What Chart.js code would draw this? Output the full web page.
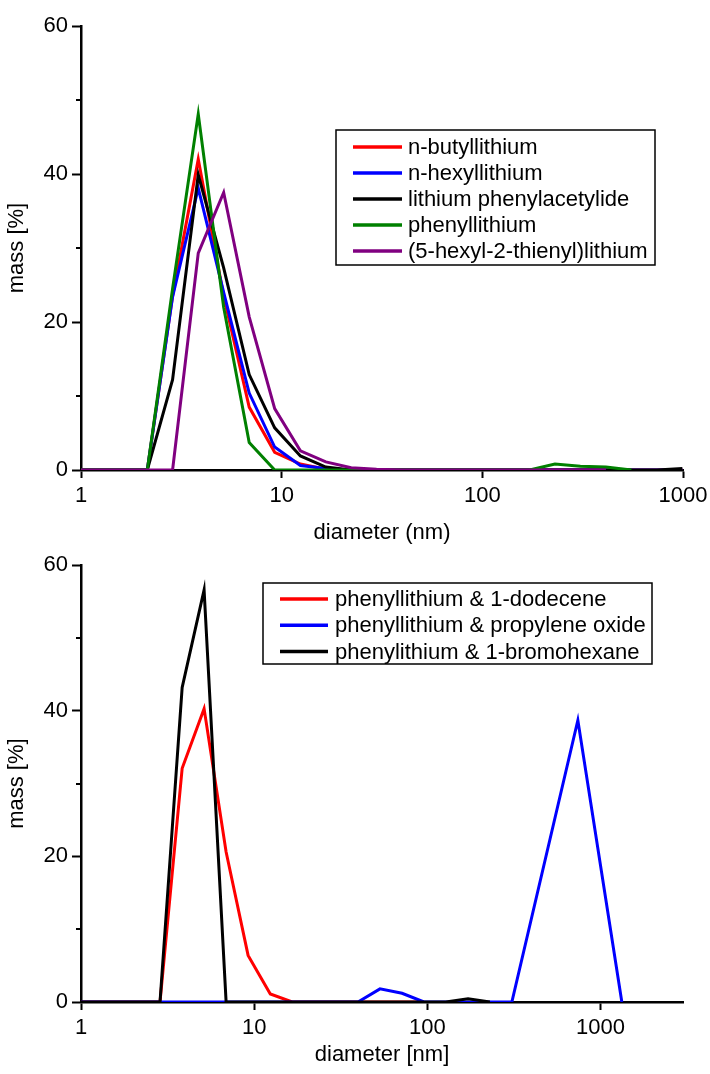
<!DOCTYPE html>
<html>
<head>
<meta charset="utf-8">
<title>Particle size distribution</title>
<script src="https://cdn.jsdelivr.net/npm/chart.js@4.4.1/dist/chart.umd.min.js"></script>
<style>
  html, body { margin: 0; padding: 0; background: #fff; }
  #wrap { width: 710px; height: 1074px; }
  canvas { display: block; }
</style>
</head>
<body>
<div id="wrap">
  <canvas id="topChart" width="710" height="548"></canvas>
  <canvas id="bottomChart" width="710" height="526"></canvas>
</div>
<script>
// size bins (nm)
const topSizes = [1, 2.14, 2.86, 3.84, 5.14, 6.89, 9.23, 12.4, 16.6, 22.2, 29.7, 39.8, 53.3, 71.5, 95.7, 128, 172, 230, 308, 413, 553, 741, 993];
const bottomSizes = [1, 2.14, 2.86, 3.84, 5.14, 6.89, 9.23, 12.4, 16.6, 22.2, 29.7, 39.8, 53.3, 71.5, 95.7, 128, 172, 230, 308, 413, 553, 741, 993, 1330];

// top: organolithium reagents, mass %
const nButyl    = [0, 0, 23.5, 42.0, 23.5, 8.5, 2.4, 0.8, 0.1, 0, 0, 0, 0, 0, 0, 0, 0, 0, 0, 0, 0, 0, 0];
const nHexyl    = [0, 0, 23.4, 38.1, 24.0, 10.4, 3.1, 0.6, 0.2, 0, 0, 0, 0, 0, 0, 0, 0, 0, 0, 0, 0, 0, 0];
const liPhAcet  = [0, 0, 12.2, 39.9, 27.3, 12.9, 5.7, 1.9, 0.4, 0, 0, 0, 0, 0, 0, 0, 0, 0, 0, 0, 0, 0, 0.2];
const phenylLi  = [0, 0, 24.5, 48.1, 22.0, 3.7, 0, 0, 0, 0, 0, 0, 0, 0, 0, 0, 0, 0.8, 0.5, 0.4, 0, null, null];
const thienylLi = [0, 0, 0, 29.3, 37.5, 20.7, 8.3, 2.6, 1.1, 0.3, 0.1, 0, 0, 0, 0, 0, 0, 0, 0, 0, null, null, null];

// bottom: phenyllithium + additives, mass %
const withDodecene = [0, 0, 0, 32.1, 40.3, 20.6, 6.4, 1.1, 0, 0, 0, 0, 0, 0, 0, null, null, null, null, null, null, null, null, null];
const withPO       = [0, 0, 0, 0, 0, 0, 0, 0, 0, 0, 0, 0, 1.8, 1.2, 0, 0, 0, 0, 0, null, null, 38.7, null, 0];
const withBromo    = [0, 0, 0, 43.2, 56.6, 0, 0, 0, 0, 0, 0, 0, 0, 0, 0, 0, 0.45, 0, null, null, null, null, null, null];

const xTicks = [1, 10, 100, 1000];
const yMinorTicks = [10, 30, 50];

const FONT = "'Liberation Sans', Arial, sans-serif";
Chart.defaults.font.family = FONT;
Chart.defaults.font.size = 22;
Chart.defaults.color = '#000';

function toPoints(xs, ys) {
  return ys.map((y, i) => ({ x: xs[i], y: y }));
}

function series(label, xs, ys, color, order) {
  return {
    label: label,
    data: toPoints(xs, ys),
    borderColor: color,
    backgroundColor: color,
    borderWidth: 3,
    pointRadius: 0,
    tension: 0,
    spanGaps: true,
    order: order
  };
}

// framed legend inside the plot
const boxLegend = {
  id: 'boxLegend',
  afterDatasetsDraw(chart, args, o) {
    const ctx = chart.ctx;
    ctx.save();
    ctx.fillStyle = '#fff';
    ctx.fillRect(o.left, o.top, o.width, o.height);
    ctx.strokeStyle = '#000';
    ctx.lineWidth = 1.5;
    ctx.strokeRect(o.left, o.top, o.width, o.height);
    ctx.font = '22px ' + FONT;
    ctx.textBaseline = 'middle';
    chart.data.datasets.forEach((ds, i) => {
      const y = o.rowTop + i * o.rowStep;
      ctx.strokeStyle = ds.borderColor;
      ctx.lineWidth = 3.5;
      ctx.beginPath();
      ctx.moveTo(o.lineX, y);
      ctx.lineTo(o.lineX + o.lineLen, y);
      ctx.stroke();
      ctx.fillStyle = '#000';
      ctx.fillText(ds.label, o.textX, y + 1);
    });
    ctx.restore();
  }
};

// short unlabelled ticks at 10, 30, 50
const minorTicks = {
  id: 'minorTicks',
  afterDraw(chart) {
    const ctx = chart.ctx;
    const y = chart.scales.y;
    ctx.save();
    ctx.strokeStyle = '#000';
    ctx.lineWidth = 2;
    yMinorTicks.forEach(v => {
      const py = Math.round(y.getPixelForValue(v));
      ctx.beginPath();
      ctx.moveTo(y.right - 5, py);
      ctx.lineTo(y.right, py);
      ctx.stroke();
    });
    ctx.restore();
  }
};

function makeChart(id, datasets, cfg) {
  return new Chart(document.getElementById(id), {
    type: 'line',
    data: { datasets: datasets },
    plugins: [boxLegend, minorTicks],
    options: {
      responsive: false,
      animation: false,
      layout: { padding: { top: cfg.padTop, right: 27, bottom: 0, left: 0 } },
      plugins: {
        legend: { display: false },
        tooltip: { enabled: false },
        boxLegend: cfg.legend
      },
      scales: {
        x: {
          type: 'logarithmic',
          min: 1,
          max: cfg.xMax,
          afterBuildTicks: (s) => { s.ticks = xTicks.map(v => ({ value: v, major: true })); },
          afterFit: (s) => {
            s.height = cfg.xAxisHeight;
            // let the layout padding alone decide the plot's right edge
            s.paddingLeft = 0;
            s.paddingRight = 0;
          },
          ticks: {
            autoSkip: false,
            maxRotation: 0,
            padding: 5,
            callback: (v) => String(v)
          },
          grid: {
            drawOnChartArea: false,
            tickLength: 8,
            tickWidth: 2,
            tickColor: '#000'
          },
          border: { color: '#000', width: 2.5 },
          title: {
            display: true,
            text: cfg.xTitle,
            padding: { top: 0, bottom: cfg.xTitlePad }
          }
        },
        y: {
          min: 0,
          max: 60,
          afterFit: (s) => { s.width = 81; },
          ticks: { stepSize: 20, padding: 4 },
          grid: {
            drawOnChartArea: false,
            tickLength: 9,
            tickWidth: 2,
            tickColor: '#000'
          },
          border: { color: '#000', width: 2.5 },
          title: {
            display: true,
            text: 'mass [%]',
            padding: { top: 4, bottom: 0 }
          }
        }
      }
    }
  });
}

makeChart('topChart', [
  series('n-butyllithium', topSizes, nButyl, '#ff0000', 4),
  series('n-hexyllithium', topSizes, nHexyl, '#0000ff', 3),
  series('lithium phenylacetylide', topSizes, liPhAcet, '#000000', 2),
  series('phenyllithium', topSizes, phenylLi, '#008000', 1),
  series('(5-hexyl-2-thienyl)lithium', topSizes, thienylLi, '#800080', 0)
], {
  padTop: 26,
  xMax: 1000,
  xAxisHeight: 78,
  xTitle: 'diameter (nm)',
  xTitlePad: 2,
  legend: { left: 336, top: 130, width: 319, height: 135, rowTop: 147, rowStep: 26, lineX: 353, lineLen: 49, textX: 408 }
});

makeChart('bottomChart', [
  series('phenyllithium & 1-dodecene', bottomSizes, withDodecene, '#ff0000', 2),
  series('phenyllithium & propylene oxide', bottomSizes, withPO, '#0000ff', 1),
  series('phenylithium & 1-bromohexane', bottomSizes, withBromo, '#000000', 0)
], {
  padTop: 11,
  xMax: 3000,
  xAxisHeight: 72,
  xTitle: 'diameter [nm]',
  xTitlePad: 6,
  legend: { left: 263, top: 35, width: 389, height: 81, rowTop: 51, rowStep: 26.3, lineX: 280, lineLen: 48, textX: 335 }
});
</script>
</body>
</html>
